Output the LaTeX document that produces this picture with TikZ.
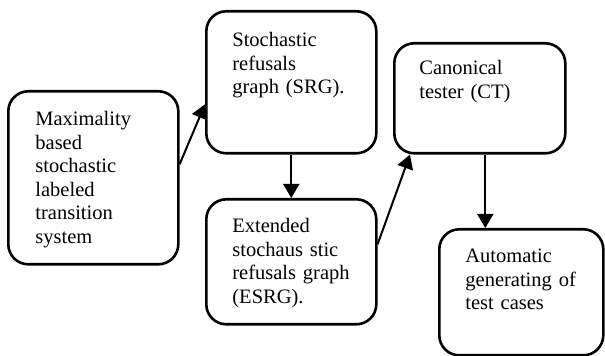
\documentclass[tikz,border=0pt]{standalone}
\usepackage{fontspec}
\setmainfont{Liberation Serif}
\usetikzlibrary{arrows.meta, positioning, calc}

\tikzset{
  stage/.style={draw, rounded corners=10pt, line width=1.3pt, inner sep=0pt, anchor=north west},
  stagetext/.style={anchor=base west, inner sep=0pt, text width=66pt, align=left,
    font=\fontsize{10.25pt}{11.75pt}\selectfont},
  flow/.style={line width=1pt, -{Triangle[length=7pt,width=8pt]}}
}

\begin{document}
\begin{tikzpicture}[x=0.5pt, y=-0.5pt]
  \useasboundingbox (0,0) rectangle (605,356);
  % boxes
  \node[stage, minimum width=85pt, minimum height=86.5pt] (mlsts) at (7,90) {};
  \node[stage, minimum width=85pt, minimum height=71pt] (srg) at (205,10) {};
  \node[stage, minimum width=85pt, minimum height=62.5pt] (esrg) at (205,198) {};
  \node[stage, minimum width=85.5pt, minimum height=55pt] (ct) at (393,42) {};
  \node[stage, minimum width=82pt, minimum height=63pt] (gen) at (438,228) {};
  % texts
  \node[stagetext] (mlsts-t) at ([shift={(28,36)}]mlsts.north west)
    {Maximality\\ based\\ stochastic\\ labeled\\ transition\\ system};
  \node[stagetext] (srg-t) at ([shift={(27,37)}]srg.north west)
    {Stochastic\\ refusals\\ graph (SRG).};
  \node[stagetext] (esrg-t) at ([shift={(27,35)}]esrg.north west)
    {Extended\\ \makebox[57.5pt][s]{stochaus stic}\\ \makebox[62.5pt][s]{refusals graph}\\ (ESRG).};
  \node[stagetext] (ct-t) at ([shift={(26,33)}]ct.north west)
    {Canonical\\ tester (CT)};
  \node[stagetext] (gen-t) at ([shift={(27,35)}]gen.north west)
    {Automatic\\ \makebox[58.5pt][s]{generating of}\\ test cases};
  % connectors
  \draw[flow] ([yshift=6.75pt]mlsts.east) -- ([yshift=-11pt]srg.west);
  \draw[flow] (srg.south) -- (esrg.north);
  \draw[flow] ([yshift=8.75pt]esrg.east) -- ([xshift=8.5pt]ct.south west);
  \draw[flow] ([xshift=2.75pt]ct.south) -- ([xshift=2.75pt]ct.south |- gen.north);
\end{tikzpicture}
\end{document}
